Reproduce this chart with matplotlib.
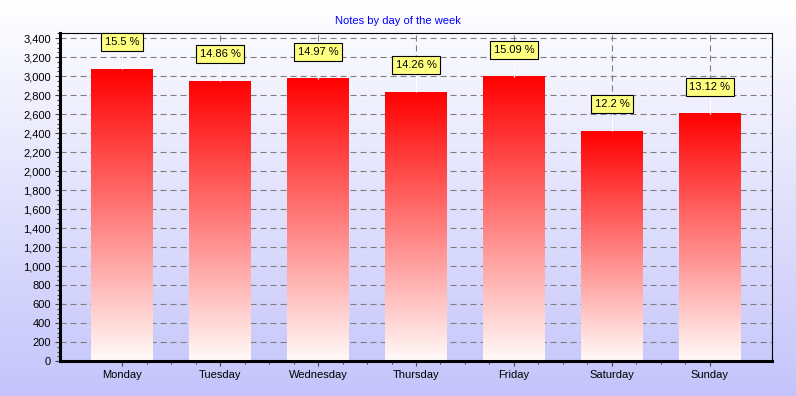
import numpy as np
import matplotlib
matplotlib.use("Agg")
from matplotlib import pyplot as plt
from matplotlib.colors import LinearSegmentedColormap
from matplotlib.ticker import FuncFormatter, MultipleLocator, FixedLocator
from matplotlib.transforms import offset_copy

days = ["Monday", "Tuesday", "Wednesday", "Thursday", "Friday", "Saturday", "Sunday"]
notes = [3074, 2947, 2969, 2828, 2993, 2419, 2602]
percents = ["15.5 %", "14.86 %", "14.97 %", "14.26 %", "15.09 %", "12.2 %", "13.12 %"]
title = "Notes by day of the week"

plt.rcParams['font.family'] = ['Liberation Sans', 'DejaVu Sans']
plt.rcParams['font.size'] = 8

W, H = 796, 396
fig = plt.figure(figsize=(W / 100, H / 100), dpi=100)

# background gradient, white at top to lavender at bottom
bg = fig.add_axes([0, 0, 1, 1], zorder=-10)
top = np.array([255, 255, 255]) / 255
bot = np.array([196, 196, 251]) / 255
t = np.linspace(0, 1, 256).reshape(-1, 1, 1)
bg.imshow(top + (bot - top) * t, aspect='auto', extent=(0, 1, 0, 1))
bg.axis('off')

ax_h_px = 328
ax = fig.add_axes([60 / W, 1 - 361 / H, 712 / W, ax_h_px / H])
ax.patch.set_alpha(0)
ymax = 3453
ax.set_xlim(-0.633, 6.633)
ax.set_ylim(0, ymax)

x = np.arange(len(days))
width = 0.63
bars = ax.bar(x, notes, width, color='none', edgecolor='none')

bar_cmap = LinearSegmentedColormap.from_list("bar", ["#fffaf8", "#ff0000"])
grad = np.linspace(0, 1, 256).reshape(-1, 1)
for b in bars:
    x0, h, w = b.get_x(), b.get_height(), b.get_width()
    ax.imshow(grad, cmap=bar_cmap, aspect='auto', origin='lower',
              extent=(x0, x0 + w, 0, h), zorder=2, interpolation='bilinear')

# labels sit 27 px above each bar, joined to it by a white leader
lead = 21 * ymax / ax_h_px
for i, (v, p) in enumerate(zip(notes, percents)):
    ax.plot([i, i], [v, v + lead], color='white', lw=1.0, zorder=4, solid_capstyle='butt')
    tr = offset_copy(ax.transData, fig=fig, x=0, y=27, units='dots')
    ax.text(i, v, p, transform=tr, ha='center', va='center', fontsize=8, zorder=5,
            bbox=dict(boxstyle='square,pad=0.35', fc='#ffff80', ec='black', lw=0.8))

ax.set_xlim(-0.633, 6.633)
ax.set_ylim(0, ymax)

ax.set_xticks(x)
ax.set_xticklabels(days)
ax.xaxis.set_minor_locator(FixedLocator([i + f for i in range(6) for f in (0.25, 0.5, 0.75)]))
ax.yaxis.set_major_locator(MultipleLocator(200))
ax.yaxis.set_minor_locator(MultipleLocator(50))
ax.yaxis.set_major_formatter(FuncFormatter(lambda v, pos: f"{v:,.0f}"))

ax.tick_params(which='major', direction='out', length=3.6, width=0.8, color='#444444',
               labelsize=8, pad=3)
ax.tick_params(which='minor', direction='out', length=2.2, width=0.8, color='#444444')

ax.set_axisbelow(True)
ax.grid(True, which='major', color='#808080', lw=0.8, linestyle=(0, (5.5, 3.5)))
ax.yaxis.get_gridlines()[0].set_visible(False)

for side in ['left', 'bottom']:
    ax.spines[side].set_linewidth(2.2)
for side in ['top', 'right']:
    ax.spines[side].set_linewidth(0.8)

fig.text(398 / W, 1 - 21.5 / H, title, color='#0000ff', ha='center', va='center', fontsize=8)

fig.savefig("out.png", dpi=100)
